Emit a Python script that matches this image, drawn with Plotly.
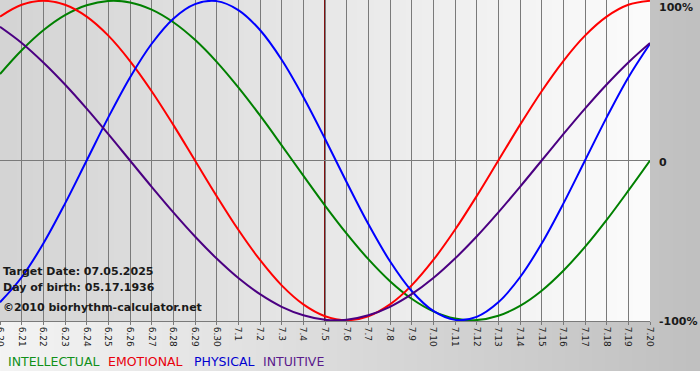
import base64
import struct
import zlib

import numpy as np
import plotly.graph_objects as go

# ---------------- data ----------------
day_labels = ["6.20", "6.21", "6.22", "6.23", "6.24", "6.25", "6.26", "6.27", "6.28", "6.29",
              "6.30", "7.1", "7.2", "7.3", "7.4", "7.5", "7.6", "7.7", "7.8", "7.9", "7.10",
              "7.11", "7.12", "7.13", "7.14", "7.15", "7.16", "7.17", "7.18", "7.19", "7.20"]

intellectual = [0.541, 0.690, 0.815, 0.910, 0.972, 0.999, 0.990, 0.945, 0.866, 0.756, 0.618,
                0.458, 0.282, 0.095, -0.095, -0.282, -0.458, -0.618, -0.756, -0.866, -0.945,
                -0.990, -0.999, -0.972, -0.910, -0.815, -0.690, -0.541, -0.372, -0.189, 0.0]
emotional = [0.901, 0.975, 1.0, 0.975, 0.901, 0.782, 0.623, 0.434, 0.223, 0.0, -0.223,
             -0.434, -0.623, -0.782, -0.901, -0.975, -1.0, -0.975, -0.901, -0.782, -0.623,
             -0.434, -0.223, 0.0, 0.223, 0.434, 0.623, 0.782, 0.901, 0.975, 1.0]
physical = [-0.888, -0.731, -0.520, -0.270, 0.0, 0.270, 0.520, 0.731, 0.888, 0.979, 0.998,
            0.942, 0.817, 0.631, 0.398, 0.136, -0.136, -0.398, -0.631, -0.817, -0.942,
            -0.998, -0.979, -0.888, -0.731, -0.520, -0.270, 0.0, 0.270, 0.520, 0.731]
intuitive = [0.837, 0.736, 0.614, 0.476, 0.325, 0.165, 0.0, -0.165, -0.325, -0.476, -0.614,
             -0.736, -0.837, -0.916, -0.969, -0.997, -0.997, -0.969, -0.916, -0.837, -0.736,
             -0.614, -0.476, -0.325, -0.165, 0.0, 0.165, 0.325, 0.476, 0.614, 0.736]

target_label = "7.5"
y_labels = {1: "100%", 0: "0", -1: "-100%"}

series_names = ["INTELLECTUAL", "EMOTIONAL", "PHYSICAL", "INTUITIVE"]
series_colors = ["#008000", "#ff0000", "#0000ff", "#4b0082"]
legend_colors = ["#10901a", "#e8000c", "#0000d0", "#5a1a8c"]

# ---------------- layout geometry ----------------
W, H = 700, 380
ML, MR, MT, MB = 0, 50, 0, 59
PW, PH = W - ML - MR, H - MT - MB


def png_uri(arr):
    h, w, _ = arr.shape
    raw = b"".join(b"\x00" + arr[i].astype(np.uint8).tobytes() for i in range(h))

    def chunk(t, d):
        c = struct.pack(">I", len(d)) + t + d
        return c + struct.pack(">I", zlib.crc32(t + d) & 0xFFFFFFFF)

    png = (b"\x89PNG\r\n\x1a\n"
           + chunk(b"IHDR", struct.pack(">IIBBBBB", w, h, 8, 2, 0, 0, 0))
           + chunk(b"IDAT", zlib.compress(raw, 9))
           + chunk(b"IEND", b""))
    return "data:image/png;base64," + base64.b64encode(png).decode()


# paper gradient (light at left -> grey at right), white strip at very bottom
xs = np.arange(W) / (W - 1)
g = 244 - (244 - 192) * xs
paper = np.repeat(np.repeat(g[None, :, None], H, axis=0), 3, axis=2)
paper[371:, :, :] = 255
# plot-area gradient
xp = np.arange(PW) / (PW - 1)
gp = 212 + (252 - 212) * xp
plotimg = np.repeat(gp[None, :, None], 3, axis=2)

x = list(range(len(day_labels)))
fig = go.Figure()
for name, vals, col in zip(series_names, [intellectual, emotional, physical, intuitive], series_colors):
    fig.add_trace(go.Scatter(x=x, y=vals, mode="lines", name=name,
                             line=dict(color=col, width=2, shape="spline", smoothing=1.0),
                             hoverinfo="skip"))

tx = day_labels.index(target_label)
fig.add_shape(type="line", x0=tx, x1=tx, y0=0, y1=1, xref="x", yref="paper",
              line=dict(color="#801010", width=2), layer="between")

fig.add_layout_image(source=png_uri(paper), xref="paper", yref="paper",
                     x=-ML / PW, y=1 + MT / PH, sizex=W / PW, sizey=H / PH,
                     xanchor="left", yanchor="top", sizing="stretch", layer="below")
fig.add_layout_image(source=png_uri(plotimg), xref="paper", yref="paper",
                     x=0, y=1, sizex=1, sizey=1,
                     xanchor="left", yanchor="top", sizing="stretch", layer="below")

txt_font = dict(family="DejaVu Sans", size=11, color="#1a1a1a", weight="bold")
info = [("Target Date: 07.05.2025", 271), ("Day of birth: 05.17.1936", 287),
        ("\u00a92010 biorhythm-calculator.net", 307)]
for t, py in info:
    fig.add_annotation(text=t, xref="paper", yref="paper", x=0, y=(PH - py) / PH,
                       xanchor="left", yanchor="middle", showarrow=False, xshift=1, font=txt_font)

ylab_pos = {1: 7, 0: 162, -1: 322}
for v, t in y_labels.items():
    fig.add_annotation(text=t, xref="paper", yref="paper", x=1, y=(PH - ylab_pos[v]) / PH,
                       xanchor="left", yanchor="middle", showarrow=False, xshift=7,
                       font=dict(family="DejaVu Sans", size=11, color="#1a1a1a", weight="bold"))

legend_x = [7, 107, 193, 262]
for n, c, lx in zip(series_names, legend_colors, legend_x):
    fig.add_annotation(text=n, xref="paper", yref="paper", x=lx / PW, y=(PH - 361) / PH,
                       xanchor="left", yanchor="middle", showarrow=False, xshift=-1,
                       font=dict(family="DejaVu Sans", size=12.5, color=c))

fig.update_layout(
    width=W, height=H,
    margin=dict(l=ML, r=MR, t=MT, b=MB, pad=0, autoexpand=False),
    paper_bgcolor="#d8d8d8", plot_bgcolor="rgba(0,0,0,0)",
    showlegend=False,
    xaxis=dict(range=[0, len(day_labels) - 1], tickmode="array", tickvals=x, ticktext=day_labels,
               tickangle=90, showgrid=True, gridcolor="#7a7a7a", gridwidth=1,
               ticks="outside", ticklen=3, tickcolor="#7a7a7a", automargin=False,
               ticklabeloverflow="allow",
               tickfont=dict(family="DejaVu Sans", size=9, color="#1a1a1a"),
               showline=True, linecolor="#7a7a7a", linewidth=1, zeroline=False, fixedrange=True),
    yaxis=dict(range=[-1.005, 1.005], showticklabels=False, showgrid=False, automargin=False,
               zeroline=True, zerolinecolor="#7a7a7a", zerolinewidth=1,
               showline=False, ticks="", fixedrange=True),
)

fig.write_html("out.html", config={"displayModeBar": False},
               post_script="document.body.style.margin='0';document.body.style.padding='0';")
